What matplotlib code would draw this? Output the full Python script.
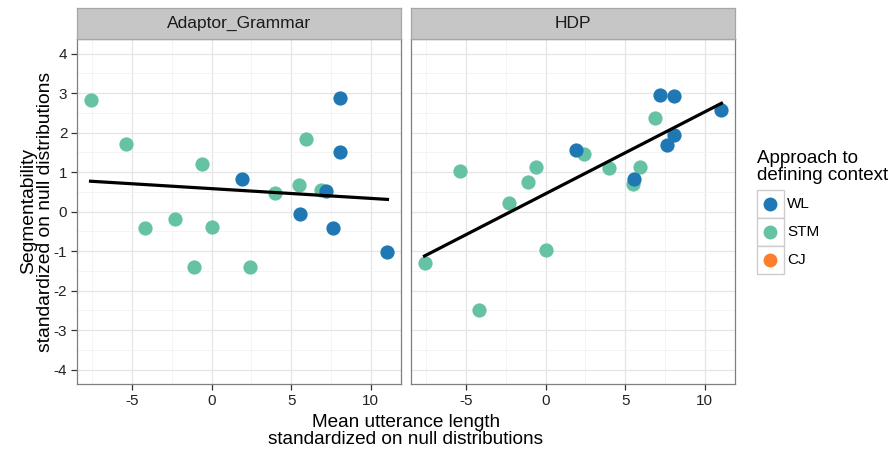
import numpy as np
import matplotlib.pyplot as plt
from matplotlib.patches import Rectangle

plt.rcParams['font.family'] = ['Liberation Sans', 'DejaVu Sans']
plt.rcParams['axes.unicode_minus'] = False

# mean utterance length (standardized) for each condition, shared by both models
mlu_stm = [-7.6, -5.4, -4.2, -2.3, -1.1, -0.6, 0.05, 2.43, 4.0, 5.5, 5.93, 6.9]
mlu_wl = [1.9, 5.55, 7.2, 7.64, 8.04, 8.04, 11.05]

# segmentability (standardized), one list per facet
seg_ag_stm = [2.82, 1.71, -0.40, -0.18, -1.39, 1.20, -0.38, -1.40, 0.47, 0.67, 1.83, 0.56]
seg_ag_wl = [0.83, -0.06, 0.53, -0.40, 2.88, 1.52, -1.03]
seg_hdp_stm = [-1.29, 1.03, -2.50, 0.21, 0.74, 1.12, -0.96, 1.45, 1.11, 0.71, 1.14, 2.38]
seg_hdp_wl = [1.55, 0.83, 2.95, 1.68, 1.95, 2.93, 2.58]

facets = ['Adaptor_Grammar', 'HDP']
seg_stm = [seg_ag_stm, seg_hdp_stm]
seg_wl = [seg_ag_wl, seg_hdp_wl]

approaches = ['WL', 'STM', 'CJ']
colors = {'WL': '#1f78b4', 'STM': '#66c2a5', 'CJ': '#fd7f2e'}

fig = plt.figure(figsize=(8.95, 4.54), dpi=100)
W, H = 895, 454
panels = [(77, 401), (411, 735)]
top, bottom = 39, 384
strip_top = 8

for i, (x0, x1) in enumerate(panels):
    ax = fig.add_axes([x0 / W, 1 - bottom / H, (x1 - x0) / W, (bottom - top) / H])
    ax.set_facecolor('white')
    ax.set_xlim(-8.45, 11.9)
    ax.set_ylim(-4.36, 4.37)
    ax.set_xticks([-5, 0, 5, 10])
    ax.set_yticks(range(-4, 5))
    ax.set_xticks(np.arange(-7.5, 12, 5), minor=True)
    ax.set_yticks(np.arange(-3.5, 4, 1), minor=True)
    ax.grid(True, which='major', color='#e5e5e5', lw=0.9)
    ax.grid(True, which='minor', color='#f2f2f2', lw=0.6)
    ax.set_axisbelow(True)
    for s in ax.spines.values():
        s.set_color('#7f7f7f')
        s.set_linewidth(0.9)
    ax.tick_params(which='minor', length=0)
    ax.tick_params(which='major', length=4, width=0.9, color='#333333',
                   labelsize=11, labelcolor='#222222', pad=3)
    if i > 0:
        ax.tick_params(axis='y', length=0, labelleft=False)

    ax.scatter(mlu_stm, seg_stm[i], s=105, color=colors['STM'], lw=0, zorder=3)
    ax.scatter(mlu_wl, seg_wl[i], s=105, color=colors['WL'], lw=0, zorder=3)

    # linear fit across all points in the facet
    xs = np.array(mlu_stm + mlu_wl)
    ys = np.array(seg_stm[i] + seg_wl[i])
    slope, icpt = np.polyfit(xs, ys, 1)
    xl = np.array([xs.min(), xs.max()])
    ax.plot(xl, icpt + slope * xl, color='black', lw=2.3, zorder=4)

    # facet strip
    sax = fig.add_axes([x0 / W, 1 - top / H, (x1 - x0) / W, (top - strip_top) / H])
    sax.set_facecolor('#c6c6c6')
    sax.set_xticks([])
    sax.set_yticks([])
    for s in sax.spines.values():
        s.set_color('#a6a6a6')
        s.set_linewidth(0.9)
    sax.text(0.5, 0.5, facets[i], ha='center', va='center', fontsize=12.5,
             color='#1a1a1a', transform=sax.transAxes)

fig.text((77 + 735) / 2 / W, 1 - 431 / H, 'Mean utterance length\nstandardized on null distributions',
         ha='center', va='center', fontsize=13.7, linespacing=1.05)
fig.text(37 / W, 1 - (top + bottom) / 2 / H, 'Segmentability\nstandardized on null distributions',
         ha='center', va='center', rotation=90, fontsize=13.9, linespacing=1.05)

# legend drawn by hand: title, grey-bordered key boxes, dots and labels
fig.text(757 / W, 1 - 167 / H, 'Approach to\ndefining context', ha='left', va='center',
         fontsize=13.5, linespacing=1.0)
for k, a in enumerate(approaches):
    y_top = 190 + 28 * k
    fig.add_artist(Rectangle((757 / W, 1 - (y_top + 28) / H), 27 / W, 28 / H,
                             transform=fig.transFigure, facecolor='white',
                             edgecolor='#cccccc', lw=1.0))
    fig.add_artist(plt.Line2D([770.5 / W], [1 - (y_top + 14) / H], marker='o', ls='',
                              markersize=10, markerfacecolor=colors[a], markeredgewidth=0,
                              transform=fig.transFigure))
    fig.text(787 / W, 1 - (y_top + 14) / H, a, ha='left', va='center', fontsize=11)

fig.savefig('out.png', dpi=100, facecolor='white')
